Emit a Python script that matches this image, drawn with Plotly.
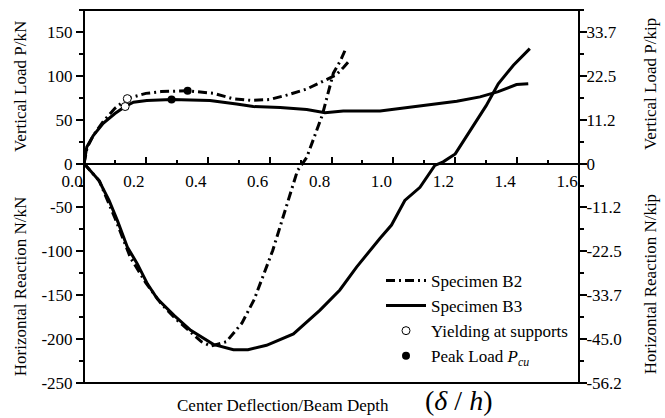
import plotly.graph_objects as go

# ---- data ----
x_b2_vert = [0, 0.01, 0.03, 0.06, 0.10, 0.14, 0.20, 0.25, 0.335, 0.42, 0.48, 0.54, 0.60, 0.655, 0.72, 0.775, 0.815, 0.84, 0.855]
p_b2 = [0, 18, 32, 47, 63, 74, 80, 82, 83, 80, 74, 72, 73, 78, 85, 94, 101, 110, 116]

x_b2_horz = [0, 0.05, 0.10, 0.15, 0.20, 0.25, 0.30, 0.35, 0.38, 0.41, 0.46, 0.51, 0.55, 0.61, 0.65, 0.69, 0.72, 0.77, 0.806, 0.83, 0.845]
n_b2 = [0, -20, -62, -107, -136, -160, -178, -193, -203, -208, -203, -182, -155, -99, -53, -8, 7, 55, 103, 118, 130]

x_b3_vert = [0, 0.009, 0.03, 0.062, 0.10, 0.133, 0.16, 0.203, 0.283, 0.407, 0.493, 0.547, 0.634, 0.72, 0.779, 0.838, 0.957, 1.064, 1.205, 1.28, 1.339, 1.398, 1.436]
p_b3 = [0, 19, 32, 46, 57, 65, 70, 72, 73, 72, 68, 65, 64, 61.5, 58, 60, 60, 64.5, 71, 76, 82, 90, 91]

x_b3_horz = [0, 0.048, 0.081, 0.108, 0.14, 0.172, 0.205, 0.237, 0.291, 0.345, 0.418, 0.483, 0.53, 0.59, 0.677, 0.763, 0.827, 0.881, 0.957, 0.994, 1.037, 1.086, 1.134, 1.161, 1.20, 1.248, 1.30, 1.339, 1.388, 1.441]
n_b3 = [0, -19, -42, -65, -95, -114, -137, -154, -173, -190, -206, -212, -212, -207, -194, -167, -144, -118, -85, -70, -42, -27, -2, 2, 11, 38, 66, 91, 112, 131]

x_yield = [0.14, 0.133]
p_yield = [74, 65]
x_peak = [0.335, 0.283]
p_peak = [83, 73]

x_ticks = [0.0, 0.2, 0.4, 0.6, 0.8, 1.0, 1.2, 1.4, 1.6]
x_ticklabels = ["0.0", "0.2", "0.4", "0.6", "0.8", "1.0", "1.2", "1.4", "1.6"]
y_ticks = [150, 100, 50, 0, -50, -100, -150, -200, -250]
y_ticklabels_kn = ["150", "100", "50", "0", "-50", "-100", "-150", "-200", "-250"]
y_ticklabels_kip = ["33.7", "22.5", "11.2", "0", "-11.2", "-22.5", "-33.7", "-45.0", "-56.2"]

FONT = "Liberation Serif, Times New Roman, serif"
FS = 17
B2_DASH = "9px,4px,2px,4px"

fig = go.Figure()
fig.add_trace(go.Scatter(x=x_b2_vert, y=p_b2, mode="lines", name="Specimen B2",
                         line=dict(color="black", width=3, dash=B2_DASH)))
fig.add_trace(go.Scatter(x=x_b2_horz, y=n_b2, mode="lines", showlegend=False,
                         line=dict(color="black", width=3, dash=B2_DASH)))
fig.add_trace(go.Scatter(x=x_b3_vert, y=p_b3, mode="lines", name="Specimen B3",
                         line=dict(color="black", width=3)))
fig.add_trace(go.Scatter(x=x_b3_horz, y=n_b3, mode="lines", showlegend=False,
                         line=dict(color="black", width=3)))
fig.add_trace(go.Scatter(x=x_yield, y=p_yield, mode="markers", name="Yielding at supports",
                         marker=dict(symbol="circle", size=8, color="white",
                                     line=dict(color="black", width=1))))
fig.add_trace(go.Scatter(x=x_peak, y=p_peak, mode="markers",
                         name="Peak Load <i>P</i><sub><i>cu</i></sub>",
                         marker=dict(symbol="circle", size=8, color="black")))
# invisible trace to anchor right axis
fig.add_trace(go.Scatter(x=[0], y=[0], yaxis="y2", mode="markers",
                         marker=dict(opacity=0), showlegend=False, hoverinfo="skip"))

YR = [-250, 175]
zero_pos = (0 - YR[0]) / (YR[1] - YR[0])

fig.update_layout(
    width=665, height=418,
    margin=dict(l=84, r=86, t=10, b=35),
    paper_bgcolor="white", plot_bgcolor="white",
    font=dict(family=FONT, size=FS, color="black"),
    showlegend=True,
    legend=dict(x=0.6, y=0.322, xanchor="left", yanchor="top",
                bgcolor="rgba(0,0,0,0)", font=dict(family=FONT, size=FS),
                tracegroupgap=0, itemwidth=40),
    xaxis=dict(range=[0, 1.6], anchor="free", position=zero_pos,
               showline=True, linecolor="black", linewidth=2,
               ticks="inside", ticklen=6, tickwidth=1.5, tickcolor="black",
               tickvals=x_ticks, ticktext=x_ticklabels,
               ticklabelshift=-12, ticklabelstandoff=2,
               minor=dict(ticks="inside", ticklen=3, tickwidth=1.5, dtick=0.1, tick0=0, tickcolor="black"),
               showgrid=False, zeroline=False,
               tickfont=dict(family=FONT, size=FS)),
    yaxis=dict(range=YR, showline=False,
               ticks="outside", ticklen=7, tickwidth=1.5, tickcolor="black",
               tickvals=y_ticks, ticktext=y_ticklabels_kn,
               minor=dict(ticks="outside", ticklen=4, tickwidth=1.5, dtick=25, tick0=0, tickcolor="black"),
               showgrid=False, zeroline=False,
               tickfont=dict(family=FONT, size=FS)),
    yaxis2=dict(range=YR, overlaying="y", side="right", anchor="x",
                showline=False,
                ticks="outside", ticklen=7, tickwidth=1.5, tickcolor="black",
                tickvals=y_ticks, ticktext=y_ticklabels_kip,
                ticklabelstandoff=-4,
                minor=dict(ticks="outside", ticklen=4, tickwidth=1.5, dtick=25, tick0=0, tickcolor="black"),
                showgrid=False, zeroline=False,
                tickfont=dict(family=FONT, size=FS)),
)

# frame
fig.add_shape(type="rect", xref="paper", yref="paper", x0=0, x1=1, y0=0, y1=1,
              line=dict(color="black", width=2), layer="above")

def ann(text, xpx, ypx, angle=0, size=FS):
    fig.add_annotation(text=text, xref="paper", yref="paper",
                       x=(xpx - 84) / 495, y=(382.7 - ypx) / 372.7,
                       xanchor="center", yanchor="middle", textangle=angle,
                       showarrow=False, font=dict(family=FONT, size=size, color="black"))

ann("Vertical Load P/kN", 20, 87, -90)
ann("Horizontal Reaction N/kN", 20, 287, -90)
ann("Vertical Load P/kip", 650, 84, -90)
ann("Horizontal Reaction N/kip", 650, 284, -90)
ann("Center Deflection/Beam Depth", 283, 405, 0)
ann("(<i>δ</i> / <i>h</i>)", 458, 400, 0, size=28)

fig.write_html("out.html")
